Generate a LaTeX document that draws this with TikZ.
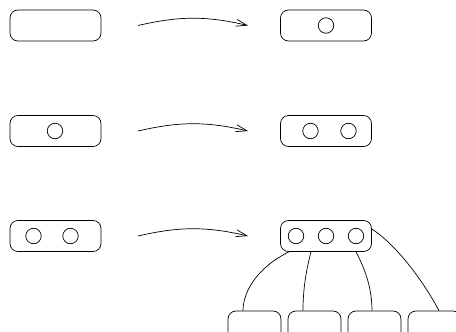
\documentclass[tikz,border=0pt]{standalone}
\usetikzlibrary{arrows.meta}
\begin{document}
\begin{tikzpicture}[x=1pt,y=-1pt,
  line width=0.7pt,
  box/.style={draw,rounded corners=8pt,minimum width=91pt,minimum height=31pt,inner sep=0pt},
  kid/.style={draw,rounded corners=8pt,minimum width=53pt,minimum height=31pt,inner sep=0pt},
  dot/.style={draw,circle,minimum size=15.5pt,inner sep=0pt},
  trans/.style={-{Straight Barb[length=11pt,width=7pt]},bend left=13}
]
\useasboundingbox (0,0) rectangle (456,332);
% row 1
\node[box] (L1) at (55.5,25.5) {};
\node[box] (R1) at (326,25.5) {};
\node[dot] (R1a) at (326,25.5) {};
\coordinate (A1s) at (138,25.5);
\coordinate (A1e) at (248,25.5);
\draw[trans] (A1s) to (A1e);
% row 2
\node[box] (L2) at (55.5,131) {};
\node[dot] (L2a) at (55,131) {};
\node[box] (R2) at (326,131) {};
\node[dot] (R2a) at (310.5,131) {};
\node[dot] (R2b) at (348.5,131) {};
\coordinate (A2s) at (138,131);
\coordinate (A2e) at (248,131);
\draw[trans] (A2s) to (A2e);
% row 3
\node[box] (L3) at (55.5,236) {};
\node[dot] (L3a) at (33.5,236) {};
\node[dot] (L3b) at (70.5,236) {};
\node[box] (R3) at (326,236) {};
\node[dot] (R3a) at (296,236) {};
\node[dot] (R3b) at (326,236) {};
\node[dot] (R3c) at (356,236) {};
\coordinate (A3s) at (138,236);
\coordinate (A3e) at (248,236);
\draw[trans] (A3s) to (A3e);
% children
\node[kid] (C1) at (254.5,326.5) {};
\node[kid] (C2) at (314.5,326.5) {};
\node[kid] (C3) at (374.5,326.5) {};
\node[kid] (C4) at (434.5,326.5) {};
\draw ([xshift=-37pt]R3.south) .. controls +(-29,14) and +(0,-21) .. ([xshift=-11.5pt]C1.north);
\draw ([xshift=-15pt]R3.south) .. controls +(-5,19) and +(0,-21) .. ([xshift=-11.5pt]C2.north);
\draw ([xshift=30pt]R3.south) .. controls +(10,19) and +(0,-21) .. ([xshift=-2.5pt]C3.north);
\draw ([yshift=7pt]R3.east) .. controls +(29,19) and +(-11,-21) .. ([xshift=4.5pt]C4.north);
\end{tikzpicture}
\end{document}
